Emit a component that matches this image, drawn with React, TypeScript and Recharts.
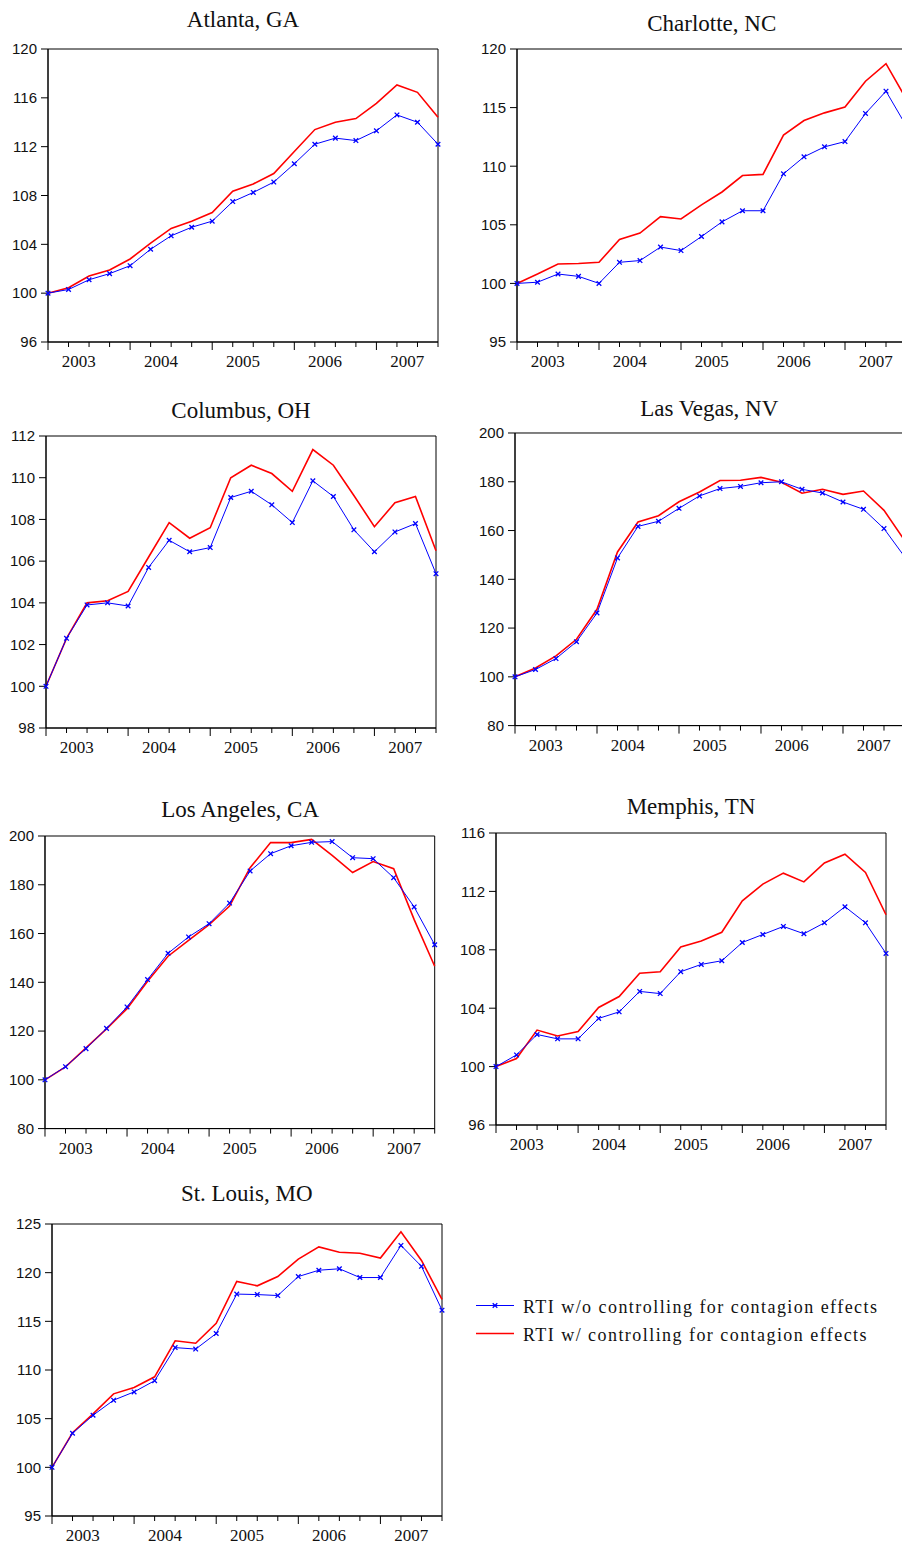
import React from "react";
import { LineChart, Line, XAxis, YAxis, ReferenceArea } from "recharts";

const quarters = [
  "2003Q1", "2003Q2", "2003Q3", "2003Q4",
  "2004Q1", "2004Q2", "2004Q3", "2004Q4",
  "2005Q1", "2005Q2", "2005Q3", "2005Q4",
  "2006Q1", "2006Q2", "2006Q3", "2006Q4",
  "2007Q1", "2007Q2", "2007Q3", "2007Q4",
];
const years = ["2003", "2004", "2005", "2006", "2007"];

// blue = RTI w/o controlling, red = RTI w/ controlling
const atlantaBlue = [100, 100.3, 101.1, 101.6, 102.25, 103.6, 104.7, 105.4, 105.9, 107.5, 108.25, 109.1, 110.6, 112.2, 112.7, 112.5, 113.3, 114.6, 114.0, 112.2];
const atlantaRed = [100, 100.45, 101.4, 101.9, 102.8, 104.1, 105.3, 105.9, 106.6, 108.35, 108.95, 109.8, 111.6, 113.4, 114.0, 114.3, 115.55, 117.05, 116.45, 114.4];

const charlotteBlue = [100, 100.1, 100.8, 100.6, 100.0, 101.8, 101.95, 103.1, 102.8, 104.0, 105.25, 106.2, 106.2, 109.35, 110.8, 111.65, 112.1, 114.5, 116.4, 113.4];
const charlotteRed = [100, 100.8, 101.65, 101.7, 101.8, 103.75, 104.3, 105.7, 105.5, 106.7, 107.8, 109.2, 109.3, 112.65, 113.9, 114.55, 115.05, 117.25, 118.75, 115.7];

const columbusBlue = [100, 102.3, 103.9, 104.0, 103.85, 105.7, 107.0, 106.45, 106.65, 109.05, 109.35, 108.7, 107.85, 109.85, 109.1, 107.5, 106.45, 107.4, 107.8, 105.4];
const columbusRed = [100, 102.3, 104.0, 104.1, 104.55, 106.2, 107.85, 107.1, 107.6, 110.0, 110.6, 110.2, 109.35, 111.35, 110.6, 109.15, 107.65, 108.8, 109.1, 106.5];

const lasVegasBlue = [100, 103.0, 107.5, 114.4, 126.2, 148.75, 161.7, 163.8, 169.1, 174.2, 177.2, 178.1, 179.6, 180.0, 176.9, 175.4, 171.7, 168.7, 160.8, 149.3];
const lasVegasRed = [100, 103.6, 108.6, 115.4, 127.7, 151.2, 163.5, 166.1, 171.8, 175.8, 180.5, 180.6, 181.8, 179.8, 175.3, 176.9, 174.85, 176.2, 168.3, 156.0];

const losAngelesBlue = [100, 105.4, 112.8, 121.1, 129.9, 141.1, 151.9, 158.6, 164.05, 172.5, 185.65, 192.75, 196.0, 197.4, 197.7, 191.1, 190.7, 182.9, 170.9, 155.4];
const losAngelesRed = [100, 105.3, 113.1, 120.9, 129.2, 140.4, 150.7, 157.2, 163.6, 171.3, 187.0, 197.3, 197.3, 198.6, 192.1, 185.0, 189.5, 186.6, 165.7, 146.6];

const memphisBlue = [100, 100.8, 102.2, 101.9, 101.9, 103.3, 103.75, 105.15, 105.0, 106.5, 107.0, 107.25, 108.5, 109.05, 109.6, 109.1, 109.85, 110.95, 109.85, 107.75];
const memphisRed = [100, 100.55, 102.5, 102.1, 102.4, 104.05, 104.8, 106.4, 106.5, 108.2, 108.6, 109.2, 111.35, 112.5, 113.25, 112.65, 113.95, 114.55, 113.3, 110.4];

const stLouisBlue = [100, 103.5, 105.35, 106.9, 107.75, 108.9, 112.3, 112.15, 113.75, 117.8, 117.75, 117.65, 119.6, 120.25, 120.4, 119.5, 119.5, 122.8, 120.65, 116.15];
const stLouisRed = [100, 103.55, 105.5, 107.55, 108.2, 109.3, 113.0, 112.75, 114.8, 119.1, 118.65, 119.6, 121.4, 122.65, 122.1, 122.0, 121.5, 124.2, 121.25, 117.25];

const SERIF = "'Liberation Serif', 'Times New Roman', serif";
const SANS = "'Liberation Sans', Arial, sans-serif";
const BLUE = "#0000ff";
const RED = "#ff0000";

function YearTick(props: any) {
  const { x, y, payload, step } = props;
  const i = payload.value;
  const major = i % 4 === 0;
  return (
    <g>
      <line x1={x} y1={y} x2={x} y2={y + (major ? 8 : 5)} stroke="#000" strokeWidth={1} />
      {i % 4 === 1 && (
        <text x={x + step / 2} y={y + 25} textAnchor="middle" fontFamily={SERIF} fontSize={17} fill="#111">
          {years[(i - 1) / 4]}
        </text>
      )}
    </g>
  );
}

function XDot(props: any) {
  const { cx, cy } = props;
  if (cx == null || cy == null) return null;
  const s = 2.3;
  return (
    <path
      d={`M${cx - s},${cy - s}L${cx + s},${cy + s}M${cx - s},${cy + s}L${cx + s},${cy - s}`}
      stroke={BLUE}
      strokeWidth={1.3}
      fill="none"
    />
  );
}

interface Box { x0: number; y0: number; x1: number; y1: number }

interface PanelProps {
  blue: number[];
  red: number[];
  yDomain: [number, number];
  yTicks: number[];
  box: Box;
}

function Panel({ blue, red, yDomain, yTicks, box }: PanelProps) {
  const { x0, y0, x1, y1 } = box;
  const w = x1 - x0;
  const h = y1 - y0;
  const padL = 50, padT = 10, padR = 10, padB = 40;
  const data = quarters.map((q, i) => ({ i, q, blue: blue[i], red: red[i] }));
  const step = w / (quarters.length - 1);

  return (
    <div style={{ position: "absolute", left: x0 - padL, top: y0 - padT }}>
      <LineChart
        width={w + padL + padR}
        height={h + padT + padB}
        data={data}
        margin={{ top: padT, right: padR, left: 0, bottom: 0 }}
      >
        <XAxis
          dataKey="i"
          type="number"
          domain={[0, quarters.length - 1]}
          ticks={quarters.map((_, i) => i)}
          interval={0}
          height={padB}
          tickSize={0}
          tickMargin={0}
          tickLine={false}
          axisLine={{ stroke: "#000" }}
          tick={<YearTick step={step} />}
        />
        <YAxis
          type="number"
          domain={yDomain}
          ticks={yTicks}
          interval={0}
          width={padL}
          tickSize={7}
          tickMargin={4}
          tickLine={{ stroke: "#000" }}
          axisLine={{ stroke: "#000" }}
          tick={{ fontFamily: SANS, fontSize: 15, fill: "#111" }}
        />
        <ReferenceArea
          x1={0}
          x2={quarters.length - 1}
          y1={yDomain[0]}
          y2={yDomain[1]}
          fill="none"
          fillOpacity={0}
          stroke="#000"
          strokeWidth={1}
        />
        <Line
          type="linear"
          dataKey="red"
          stroke={RED}
          strokeWidth={1.6}
          dot={false}
          activeDot={false}
          isAnimationActive={false}
        />
        <Line
          type="linear"
          dataKey="blue"
          stroke={BLUE}
          strokeWidth={1}
          dot={<XDot />}
          activeDot={false}
          isAnimationActive={false}
        />
      </LineChart>
    </div>
  );
}

const panels = [
  { title: "Atlanta, GA", blue: atlantaBlue, red: atlantaRed, yDomain: [96, 120] as [number, number], yTicks: [96, 100, 104, 108, 112, 116, 120], box: { x0: 48, y0: 49, x1: 438, y1: 342 }, titleY: 27 },
  { title: "Charlotte, NC", blue: charlotteBlue, red: charlotteRed, yDomain: [95, 120] as [number, number], yTicks: [95, 100, 105, 110, 115, 120], box: { x0: 517, y0: 49, x1: 906.5, y1: 342 }, titleY: 31 },
  { title: "Columbus, OH", blue: columbusBlue, red: columbusRed, yDomain: [98, 112] as [number, number], yTicks: [98, 100, 102, 104, 106, 108, 110, 112], box: { x0: 46, y0: 435.7, x1: 436, y1: 727.7 }, titleY: 418 },
  { title: "Las Vegas, NV", blue: lasVegasBlue, red: lasVegasRed, yDomain: [80, 200] as [number, number], yTicks: [80, 100, 120, 140, 160, 180, 200], box: { x0: 514.5, y0: 432.7, x1: 904, y1: 725.3 }, titleY: 415.7 },
  { title: "Los Angeles, CA", blue: losAngelesBlue, red: losAngelesRed, yDomain: [80, 200] as [number, number], yTicks: [80, 100, 120, 140, 160, 180, 200], box: { x0: 45.3, y0: 835.7, x1: 435, y1: 1128.3 }, titleY: 817 },
  { title: "Memphis, TN", blue: memphisBlue, red: memphisRed, yDomain: [96, 116] as [number, number], yTicks: [96, 100, 104, 108, 112, 116], box: { x0: 496, y0: 833.3, x1: 886, y1: 1125.3 }, titleY: 814 },
  { title: "St. Louis, MO", blue: stLouisBlue, red: stLouisRed, yDomain: [95, 125] as [number, number], yTicks: [95, 100, 105, 110, 115, 120, 125], box: { x0: 51.7, y0: 1223.7, x1: 441.7, y1: 1515.7 }, titleY: 1201 },
];

export default function App() {
  return (
    <div
      style={{
        position: "absolute",
        left: 0,
        top: 0,
        width: 902,
        height: 1549,
        overflow: "hidden",
        background: "#fff",
      }}
    >
      {panels.map((p) => (
        <Panel key={p.title} blue={p.blue} red={p.red} yDomain={p.yDomain} yTicks={p.yTicks} box={p.box} />
      ))}
      <svg
        width={902}
        height={1549}
        style={{ position: "absolute", left: 0, top: 0, pointerEvents: "none" }}
      >
        {panels.map((p) => (
          <text
            key={p.title}
            x={(p.box.x0 + p.box.x1) / 2}
            y={p.titleY}
            textAnchor="middle"
            fontFamily={SERIF}
            fontSize={23}
            fill="#111"
          >
            {p.title}
          </text>
        ))}
        <line x1={476} y1={1305.5} x2={514} y2={1305.5} stroke={BLUE} strokeWidth={1} />
        <XDot cx={495} cy={1305.5} />
        <text x={523} y={1313} fontFamily={SERIF} fontSize={18} letterSpacing={1.45} fill="#111">
          RTI w/o controlling for contagion effects
        </text>
        <line x1={476} y1={1333.5} x2={514} y2={1333.5} stroke={RED} strokeWidth={1.6} />
        <text x={523} y={1341} fontFamily={SERIF} fontSize={18} letterSpacing={1.45} fill="#111">
          RTI w/ controlling for contagion effects
        </text>
      </svg>
    </div>
  );
}
